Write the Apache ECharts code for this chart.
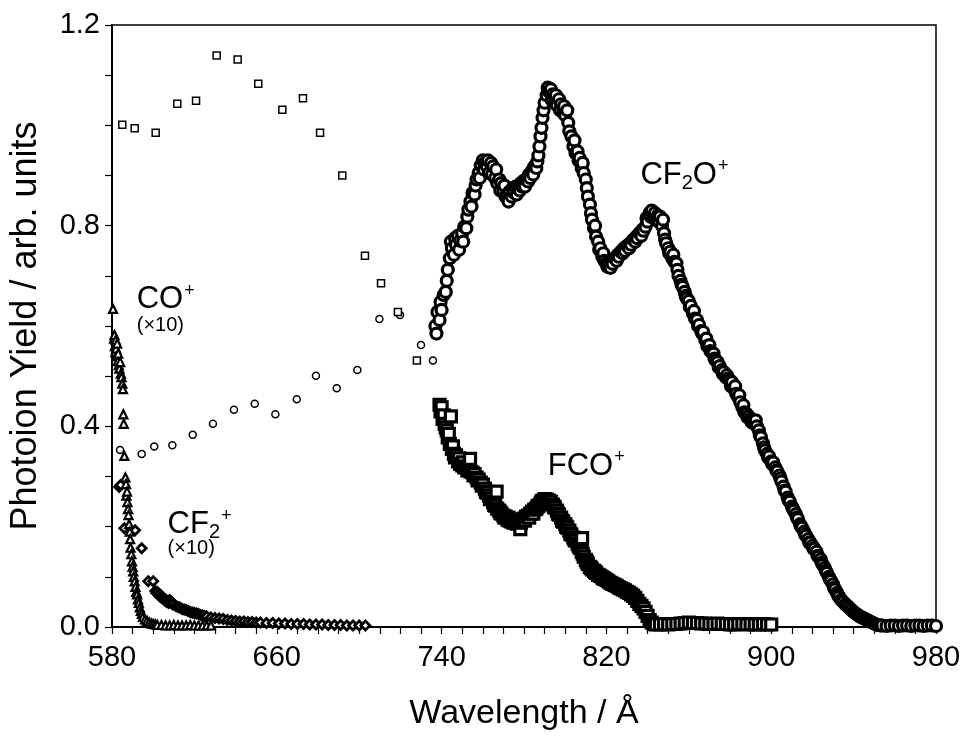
<!DOCTYPE html>
<html>
<head>
<meta charset="utf-8">
<script src="https://cdn.jsdelivr.net/npm/echarts@6/dist/echarts.min.js"></script>
<style>
  html, body { margin: 0; padding: 0; background: #fff; }
  #chart { width: 964px; height: 736px; }
</style>
</head>
<body>
<div id="chart"></div>
<script>
// Wavelength (Å) / photoion yield (arb. units) pairs for each ion

// CF2O+ coarse scan (open circles)
const cf2oCoarse = [
  [583.9, 0.353], [594.4, 0.345], [600.5, 0.360], [609.3, 0.3625], [619.2, 0.383],
  [629.0, 0.405], [639.2, 0.433], [649.3, 0.445], [659.3, 0.424], [669.7, 0.454],
  [679.0, 0.501], [689.1, 0.476], [699.1, 0.5125], [709.8, 0.614], [719.8, 0.622],
  [730.0, 0.562], [735.8, 0.531]
];

// FCO+ coarse scan (open squares)
const fcoCoarse = [
  [585.0, 1.001], [591.0, 0.994], [601.2, 0.985], [611.7, 1.043], [620.8, 1.049],
  [630.8, 1.139], [641.0, 1.131], [651.0, 1.083], [662.7, 1.031], [672.7, 1.054],
  [681.0, 0.985], [691.8, 0.900], [702.8, 0.740], [710.6, 0.685], [718.8, 0.628],
  [728.0, 0.531]
];

// CF2O+ fine scan
const cf2oFine = [
  [737,0.600],[737.5,0.585],[738,0.628],[739,0.612],[739.5,0.648],[740,0.632],[741,0.662],[742,0.668],
  [742.5,0.690],[743,0.712],[744,0.735],[744.5,0.768],[745,0.755],[746,0.742],[746.5,0.775],[747,0.762],
  [748,0.780],[748.5,0.752],[749,0.770],[750,0.785],[750.5,0.768],[751,0.798],[752,0.795],[752.5,0.818],
  [753,0.832],[754,0.848],[754.5,0.838],[755,0.865],[756,0.862],[756.5,0.880],[757,0.892],[758,0.905],
  [758.5,0.895],[759,0.920],[760,0.930],[760.5,0.912],[761,0.925],[762,0.918],[762.5,0.930],[763,0.905],
  [764,0.925],[764.5,0.902],[765,0.918],[766,0.895],[766.5,0.912],[767,0.885],[768,0.892],[768.5,0.870],
  [769,0.885],[770,0.868],[770.5,0.880],[771,0.858],[772,0.862],[772.5,0.848],[773,0.868],[774,0.858],
  [774.5,0.875],[775,0.866],[776,0.878],[776.5,0.862],[777,0.874],[778,0.870],[778.5,0.885],[779,0.878],
  [780,0.890],[780.5,0.878],[781,0.892],[782,0.888],[782.5,0.902],[783,0.895],[784,0.910],[784.5,0.902],
  [785,0.918],[786,0.915],[786.5,0.928],[787,0.940],[787.5,0.958],[788,0.978],[788.5,0.995],[789,1.015],
  [789.5,1.030],[790,1.045],[791,1.060],[791.5,1.075],[792,1.068],[793,1.072],[793.5,1.050],[794,1.062],
  [795,1.045],[795.5,1.060],[796,1.040],[797,1.052],[797.5,1.030],[798,1.042],[799,1.025],[799.5,1.038],
  [800,1.020],[801,1.030],[801.5,1.005],[802,0.988],[803,0.978],[804,0.958],[804.5,0.970],[805,0.945],
  [806,0.948],[806.5,0.930],[807,0.935],[808,0.915],[808.5,0.925],[809,0.905],[810,0.892],[810.5,0.875],
  [811,0.858],[812,0.842],[812.5,0.825],[813,0.812],[814,0.795],[814.5,0.800],[815,0.778],[816,0.768],
  [816.5,0.752],[817,0.755],[818,0.738],[818.5,0.745],[819,0.730],[820,0.725],[820.5,0.718],[821,0.722],
  [822,0.716],[822.5,0.728],[823,0.724],[824,0.735],[825,0.730],[825.5,0.742],[826,0.738],[827,0.748],
  [828,0.745],[828.5,0.755],[829,0.750],[830,0.760],[831,0.755],[831.5,0.765],[832,0.762],[833,0.772],
  [834,0.768],[834.5,0.778],[835,0.775],[836,0.785],[837,0.780],[837.5,0.792],[838,0.790],[839,0.798],
  [839.5,0.815],[840,0.808],[841,0.825],[841.5,0.818],[842,0.830],[843,0.815],[843.5,0.825],[844,0.812],
  [845,0.820],[845.5,0.808],[846,0.818],[847,0.800],[847.5,0.812],[848,0.785],[848.5,0.772],[849,0.765],
  [850,0.755],[850.5,0.745],[851,0.748],[852,0.735],[852.5,0.742],[853,0.728],[854,0.725],[854.5,0.712],
  [855,0.700],[856,0.690],[856.5,0.682],[857,0.678],[858,0.668],[858.5,0.660],[859,0.655],[860,0.650],
  [860.5,0.638],[861,0.640],[862,0.625],[862.5,0.630],[863,0.615],[864,0.612],[864.5,0.600],[865,0.602],
  [866,0.590],[866.5,0.585],[867,0.588],[868,0.572],[868.5,0.575],[869,0.560],[870,0.562],[870.5,0.550],
  [871,0.548],[872,0.545],[872.5,0.535],[873,0.532],[874,0.528],[874.5,0.518],[875,0.520],[876,0.512],
  [876.5,0.505],[877,0.508],[878,0.498],[878.5,0.502],[879,0.495],[880,0.492],[880.5,0.480],[881,0.488],
  [882,0.475],[882.5,0.480],[883,0.465],[884,0.458],[884.5,0.462],[885,0.448],[886,0.438],[886.5,0.442],
  [887,0.428],[888,0.425],[888.5,0.418],[889,0.420],[890,0.415],[890.5,0.408],[891,0.412],[892,0.405],
  [892.5,0.412],[893,0.400],[894,0.392],[894.5,0.382],[895,0.378],[896,0.366],[896.5,0.358],[897,0.352],
  [898,0.345],[898.5,0.338],[899,0.340],[900,0.330],[900.5,0.325],[901,0.328],[902,0.318],[902.5,0.312],
  [903,0.310],[904,0.302],[904.5,0.296],[905,0.290],[906,0.280],[906.5,0.272],[907,0.270],[908,0.258],
  [908.5,0.252],[909,0.250],[910,0.240],[910.5,0.236],[911,0.232],[912,0.225],[912.5,0.218],[913,0.215],
  [914,0.205],[914.5,0.200],[915,0.198],[916,0.190],[916.5,0.184],[917,0.182],[918,0.175],[918.5,0.168],
  [919,0.168],[920,0.162],[920.5,0.156],[921,0.156],[922,0.150],[922.5,0.142],[923,0.140],[924,0.135],
  [924.5,0.128],[925,0.124],[926,0.118],[926.5,0.112],[927,0.108],[928,0.100],[928.5,0.095],[929,0.092],
  [930,0.085],[930.5,0.078],[931,0.075],[932,0.068],[932.5,0.063],[933,0.060],[934,0.054],[935,0.050],
  [936,0.045],[937,0.042],[938,0.038],[939,0.034],[940,0.030],[941,0.027],[942,0.024],[943,0.021],
  [944,0.019],[945,0.017],[946,0.015],[947,0.013],[948,0.011],[949,0.009],[950,0.007],[951,0.005],
  [952,0.004],[953,0.003],[954,0.003],[956,0.002],[958,0.003],[960,0.003],[962,0.002],[964,0.003],
  [966,0.003],[968,0.002],[970,0.003],[972,0.003],[974,0.002],[976,0.003],[978,0.003],[980,0.002]
];

// FCO+ fine scan
const fcoFine = [
  [739,0.443],[739.5,0.430],[740,0.438],[740.5,0.415],[741,0.422],[741.5,0.405],[742,0.398],[742.5,0.392],
  [743,0.378],[743.5,0.385],[744,0.365],[744.5,0.420],[745,0.355],[745.5,0.360],[746,0.345],[746.5,0.338],
  [747,0.342],[748,0.330],[748.5,0.336],[749,0.325],[750,0.322],[750.5,0.328],[751,0.318],[752,0.320],
  [752.5,0.312],[753,0.318],[753.8,0.335],[754,0.310],[755,0.308],[755.5,0.302],[756,0.305],[757,0.298],
  [757.5,0.292],[758,0.294],[759,0.288],[759.5,0.282],[760,0.284],[761,0.276],[761.5,0.270],[762,0.268],
  [763,0.262],[763.5,0.255],[764,0.256],[765,0.249],[765.5,0.244],[766,0.242],[766.7,0.270],[767,0.236],
  [768,0.232],[768.5,0.228],[769,0.226],[770,0.222],[770.5,0.218],[771,0.220],[772,0.214],[772.5,0.218],
  [773,0.212],[774,0.210],[774.5,0.214],[775,0.208],[776,0.210],[776.5,0.206],[777,0.210],[778,0.212],
  [778.2,0.195],[778.5,0.208],[779,0.214],[780,0.216],[780.5,0.212],[781,0.220],[782,0.222],[782.5,0.218],
  [783,0.226],[784,0.230],[784.5,0.226],[785,0.234],[786,0.236],[786.5,0.240],[787,0.242],[788,0.246],
  [788.5,0.250],[789,0.252],[790,0.255],[790.5,0.250],[791,0.254],[792,0.252],[792.5,0.248],[793,0.250],
  [794,0.244],[794.5,0.240],[795,0.238],[796,0.232],[796.5,0.226],[797,0.224],[798,0.218],[798.5,0.212],
  [799,0.210],[800,0.205],[800.5,0.200],[801,0.198],[802,0.192],[802.5,0.186],[803,0.184],[804,0.178],
  [804.5,0.174],[805,0.172],[806,0.166],[806.5,0.162],[807,0.158],[808,0.150],[808.2,0.177],[808.5,0.146],
  [809,0.140],[810,0.134],[810.5,0.130],[811,0.126],[812,0.120],[812.5,0.118],[813,0.115],[814,0.112],
  [814.5,0.110],[815,0.108],[816,0.104],[817,0.102],[818,0.099],[818.5,0.097],[819,0.096],[820,0.094],
  [821,0.091],[822,0.088],[823,0.086],[824,0.084],[825,0.082],[826,0.079],[827,0.077],[828,0.075],
  [829,0.073],[830,0.070],[831,0.068],[832,0.065],[833,0.062],[834,0.058],[835,0.052],[836,0.046],
  [837,0.042],[838,0.037],[839,0.030],[840,0.022],[841,0.014],[842,0.009],[843,0.006],[844,0.005],
  [846,0.005],[848,0.006],[850,0.005],[852,0.006],[854,0.006],[856,0.007],[858,0.008],[860,0.009],
  [862,0.008],[864,0.008],[866,0.007],[868,0.007],[870,0.006],[872,0.006],[874,0.007],[876,0.006],
  [878,0.006],[880,0.005],[882,0.005],[884,0.006],[886,0.006],[888,0.005],[890,0.006],[892,0.005],
  [894,0.005],[896,0.006],[898,0.005],[900,0.005]
];

// CO+ (x10), open triangles
const coPlus = [
  [580.5,0.634],[581,0.575],[581.2,0.582],[581.4,0.560],[581.6,0.548],[581.8,0.572],[582,0.555],[582.2,0.540],
  [582.5,0.565],[582.8,0.530],[583,0.545],[583.3,0.522],[583.6,0.515],[584,0.528],[584.3,0.505],[584.6,0.498],
  [585,0.485],[585.3,0.474],[585.5,0.424],[585.7,0.405],[586,0.341],[586.5,0.298],[586.8,0.285],[587,0.262],
  [587.3,0.270],[587.5,0.249],[587.8,0.235],[588,0.223],[588.3,0.205],[588.6,0.190],[588.8,0.175],[589,0.158],
  [589.4,0.145],[589.7,0.131],[590,0.120],[590.3,0.111],[590.6,0.100],[591,0.091],[591.4,0.080],[591.8,0.070],
  [592.2,0.065],[592.6,0.055],[593,0.048],[593.5,0.039],[594,0.032],[594.5,0.026],[595,0.020],[596,0.015],
  [597,0.012],[598,0.009],[599,0.007],[600,0.006],[601,0.005],[602,0.004],[604,0.004],[606,0.003],
  [608,0.003],[610,0.004],[612,0.003],[614,0.003],[616,0.003],[618,0.004],[620,0.003],[622,0.003],
  [624,0.003],[626,0.003],[628,0.003]
];

// CF2+ (x10), open diamonds
const cf2Plus = [
  [583.5,0.279],[584.2,0.283],[586,0.197],[591.2,0.193],[594.4,0.157],[597.6,0.091],[600,0.091],[601,0.072],
  [601.5,0.068],[602,0.070],[602.5,0.064],[603,0.066],[603.5,0.060],[604,0.062],[604.5,0.057],[605,0.058],
  [605.5,0.054],[606,0.055],[606.5,0.050],[607,0.052],[607.5,0.048],[608,0.054],[608.5,0.049],[609,0.050],
  [609.5,0.045],[610,0.046],[611,0.042],[612,0.040],[613,0.039],[614,0.036],[615,0.035],[616,0.034],
  [617,0.032],[618,0.030],[619,0.029],[620,0.028],[621,0.027],[622,0.026],[623,0.024],[624,0.023],
  [625,0.022],[626,0.021],[628,0.019],[630,0.018],[632,0.017],[634,0.016],[636,0.014],[638,0.013],
  [640,0.012],[642,0.011],[644,0.011],[646,0.010],[648,0.010],[650,0.009],[652,0.009],[655,0.008],
  [658,0.008],[661,0.007],[664,0.007],[667,0.006],[670,0.006],[673,0.006],[676,0.005],[679,0.005],
  [682,0.005],[685,0.004],[688,0.004],[691,0.004],[694,0.003],[697,0.003],[700,0.003],[703,0.003]
];

// Axis ranges and tick spacing
const xRange = [580, 980], xStep = 80;
const yRange = [0, 1.2], yStep = 0.4;

// Ion labels: text (rich markup) anchored at a data position (left edge, vertical middle)
const ionLabels = [
  { at: [592.0, 0.652], text: '{m|CO}{sup|+}' },
  { at: [592.0, 0.602], text: '{s|(\u00d710)}' },
  { at: [607.0, 0.204], text: '{m|CF}{sub|2}{sup|+}' },
  { at: [607.0, 0.156], text: '{s|(\u00d710)}' },
  { at: [836.5, 0.900], text: '{m|CF}{sub|2}{m|O}{sup|+}' },
  { at: [791.5, 0.320], text: '{m|FCO}{sup|+}' }
];

const FONT = "'Liberation Sans', Arial, Helvetica, sans-serif";

const openMarker = (symbol, size, border) => ({
  type: 'scatter',
  symbol: symbol,
  symbolSize: size,
  itemStyle: { color: '#ffffff', borderColor: '#000000', borderWidth: border, opacity: 1 },
  emphasis: { disabled: true },
  silent: true
});

const chart = echarts.init(document.getElementById('chart'), null, { renderer: 'canvas' });

const richStyles = {
  m:   { fontFamily: FONT, fontSize: 31, color: '#000', lineHeight: 36, verticalAlign: 'middle' },
  sup: { fontFamily: FONT, fontSize: 18, color: '#000', lineHeight: 36, verticalAlign: 'top', padding: [0, 0, 0, 1] },
  sub: { fontFamily: FONT, fontSize: 20, color: '#000', lineHeight: 36, verticalAlign: 'bottom' },
  s:   { fontFamily: FONT, fontSize: 20, color: '#000', lineHeight: 24 }
};

chart.setOption({
  animation: false,
  backgroundColor: '#ffffff',
  grid: {
    left: 112, right: 28, top: 25, bottom: 103,
    show: true, borderColor: '#000', borderWidth: 1.5, backgroundColor: 'transparent'
  },
  xAxis: {
    type: 'value',
    min: xRange[0], max: xRange[1], interval: xStep,
    name: 'Wavelength / \u00c5',
    nameLocation: 'middle',
    nameGap: 70,
    nameTextStyle: { fontFamily: FONT, fontSize: 34, color: '#000' },
    axisLine: { show: true, onZero: false, lineStyle: { color: '#000', width: 2 } },
    axisTick: { show: true, inside: false, length: 7, lineStyle: { color: '#000', width: 1.2 } },
    minorTick: { show: true, splitNumber: 8, length: 7, lineStyle: { color: '#000', width: 1.2 } },
    axisLabel: {
      fontFamily: FONT, fontSize: 29, color: '#000', margin: 16,
      formatter: v => String(Math.round(v))
    },
    splitLine: { show: false }
  },
  yAxis: {
    type: 'value',
    min: yRange[0], max: yRange[1], interval: yStep,
    name: 'Photoion Yield / arb. units',
    nameLocation: 'middle',
    nameRotate: 90,
    nameGap: 68,
    nameTextStyle: { fontFamily: FONT, fontSize: 36, color: '#000' },
    axisLine: { show: true, onZero: false, lineStyle: { color: '#000', width: 2 } },
    axisTick: { show: true, inside: false, length: 7, lineStyle: { color: '#000', width: 1.2 } },
    minorTick: { show: true, splitNumber: 4, length: 7, lineStyle: { color: '#000', width: 1.2 } },
    axisLabel: {
      fontFamily: FONT, fontSize: 29, color: '#000', margin: 12,
      formatter: v => v.toFixed(1)
    },
    splitLine: { show: false }
  },
  series: [
    Object.assign(openMarker('circle', 7, 1.5), { name: 'CF2O+ coarse', data: cf2oCoarse }),
    Object.assign(openMarker('rect', 7, 1.5), { name: 'FCO+ coarse', data: fcoCoarse }),
    Object.assign(openMarker('diamond', 9, 2.8), { name: 'CF2+', data: cf2Plus }),
    Object.assign(openMarker('triangle', 8, 2.2), { name: 'CO+', data: coPlus }),
    Object.assign(openMarker('rect', 11, 3.2), { name: 'FCO+', data: fcoFine }),
    Object.assign(openMarker('circle', 11, 3.2), { name: 'CF2O+', data: cf2oFine }),
    {
      name: 'labels',
      type: 'scatter',
      symbolSize: 0,
      silent: true,
      itemStyle: { opacity: 1, color: '#000' },
      data: ionLabels.map(l => ({ value: l.at, text: l.text })),
      label: {
        show: true,
        position: 'right',
        distance: 0,
        color: '#000',
        opacity: 1,
        textBorderWidth: 0,
        formatter: p => p.data.text,
        rich: richStyles
      }
    }
  ]
});
</script>
</body>
</html>
